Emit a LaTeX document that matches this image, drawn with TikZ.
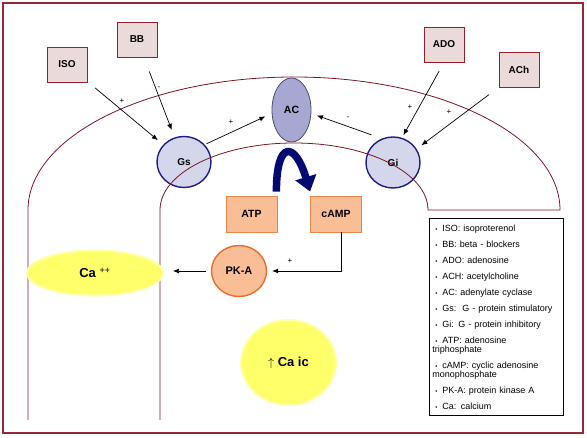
\documentclass[tikz,border=0pt]{standalone}
\usepackage{fontspec}
\setmainfont{Liberation Sans}
\usepackage{xcolor}
\usetikzlibrary{arrows,arrows.meta,shapes.geometric}

\definecolor{framered}{RGB}{150,40,55}
\definecolor{membred}{RGB}{125,20,35}
\definecolor{drugfill}{RGB}{234,218,218}
\definecolor{drugline}{RGB}{150,30,45}
\definecolor{gfill}{RGB}{212,214,236}
\definecolor{gline}{RGB}{30,30,130}
\definecolor{acfill}{RGB}{166,168,210}
\definecolor{acline}{RGB}{75,75,105}
\definecolor{nuclfill}{RGB}{250,190,150}
\definecolor{nuclline}{RGB}{235,135,70}
\definecolor{pkaline}{RGB}{230,110,45}
\definecolor{cayellow}{RGB}{255,255,105}
\definecolor{caedge}{RGB}{255,255,170}
\definecolor{bignavy}{RGB}{5,10,115}

\tikzset{
  drug/.style={rectangle, draw=drugline, fill=drugfill, line width=0.8pt,
    minimum width=40pt, minimum height=35pt, inner sep=0pt,
    font=\bfseries\fontsize{10}{12}\selectfont},
  gprot/.style={ellipse, draw=gline, fill=gfill, line width=1.4pt,
    minimum width=54pt, minimum height=51pt, inner sep=0pt,
    font=\bfseries\fontsize{10}{12}\selectfont},
  cyclase/.style={ellipse, draw=acline, fill=acfill, line width=0.8pt,
    minimum width=39pt, minimum height=64pt, inner sep=0pt,
    font=\bfseries\fontsize{10.5}{12}\selectfont},
  nucl/.style={rectangle, draw=nuclline, fill=nuclfill, line width=0.8pt,
    minimum width=51pt, minimum height=36pt, inner sep=0pt,
    font=\bfseries\fontsize{10.5}{12}\selectfont},
  kinase/.style={ellipse, draw=pkaline, fill=nuclfill, line width=1.4pt,
    minimum width=55pt, minimum height=51pt, inner sep=0pt,
    font=\bfseries\fontsize{11}{12}\selectfont},
  calcium/.style={ellipse, draw=caedge, fill=cayellow, line width=2pt,
    inner sep=0pt, font=\fontsize{13}{14}\selectfont},
  membrane/.style={draw=membred, line width=0.8pt},
  arr/.style={->, >={Latex[length=6pt,width=5pt]}, line width=0.7pt},
  bigarrow/.style={-{Triangle[width=21pt,length=15pt]}, draw=bignavy, line width=7.5pt},
  sign/.style={inner sep=0pt, font=\fontsize{8}{8}\selectfont},
  legend/.style={rectangle, draw=black, line width=0.7pt, inner sep=3pt,
    align=left, font=\fontsize{9}{9}\selectfont},
}

\newcommand{\keyitem}{\hspace*{3pt}{\fontsize{6}{6}\selectfont\textbullet}\hspace{5pt}}

\begin{document}
\begin{tikzpicture}[x=1pt, y=-1pt]
\useasboundingbox (0,0) rectangle (587,438);
\draw [framered, line width=2pt] (3,3) rectangle (583,433);

% receptors and ligands
\node [drug] (iso) at (67,64.5) {ISO};
\node [drug] (bb) at (137,39.5) {BB};
\node [drug] (ado) at (444,44.5) {ADO};
\node [drug] (ach) at (519,69.5) {ACh};
\node [gprot] (gs) at (184,162) {Gs};
\node [gprot] (gi) at (393,162.5) {Gi};

% cell membrane
\draw [membrane] (28,420) -- (28,210)
  arc [start angle=180, end angle=360, x radius=266, y radius=133] -- (428,210)
  arc [start angle=0, end angle=-180, x radius=134, y radius=67] -- (160,420);

\node [cyclase] (ac) at (291.5,110) {AC};
\node [nucl] (atp) at (251.5,214) {ATP};
\node [nucl] (camp) at (336,214) {cAMP};
\node [kinase] (pka) at (239,271) {PK-A};
\node [calcium, minimum width=136pt, minimum height=45pt] (caext) at (95,273) {{\bfseries Ca} \textsuperscript{++}};
\node [calcium, minimum width=95pt, minimum height=85pt] (caic) at (288.5,362.5) {$\uparrow$ {\bfseries Ca ic}};

% connectors
\draw [arr, shorten <=10pt, shorten >=7pt] (iso) -- (gs);
\draw [arr, shorten <=15pt, shorten >=8pt] (bb) -- (gs);
\draw [arr, shorten <=2pt, shorten >=7pt] (gs.40) -- (ac.190);
\draw [arr, shorten <=11pt, shorten >=6pt] (gi.115) -- (ac.350);
\draw [arr, shorten <=10pt, shorten >=3pt] (ado.south) -- (gi.70);
\draw [arr, shorten <=12pt, shorten >=6pt] (ach.south west) -- (gi.30);
\draw [arr, shorten >=5pt] ([xshift=5pt]camp.south) |- (pka.east);
\draw [arr, shorten <=5pt, shorten >=9pt] (pka.west) -- (caext.east |- pka.west);
\draw [bigarrow] ([xshift=-1pt,yshift=4pt]atp.north east) .. controls +(0,-52) and +(-15,-50) .. ([yshift=4pt]camp.north west);

\node [sign] (isosign) at (122,101) {+};
\node [sign] (bbsign) at (159,88) {-};
\node [sign] (gssign) at (231,122) {+};
\node [sign] (gisign) at (348,118) {-};
\node [sign] (adosign) at (410,107) {+};
\node [sign] (achsign) at (449,112) {+};
\node [sign] (campsign) at (290,261) {+};

% abbreviations
\node [legend, anchor=north west, text width=128pt, minimum height=197pt] (key) at (429,218) {%
\keyitem ISO: isoproterenol\\[7pt]
\keyitem BB: beta - blockers\\[7pt]
\keyitem ADO: adenosine\\[7pt]
\keyitem ACH: acetylcholine\\[7pt]
\keyitem AC: adenylate cyclase\\[7pt]
\keyitem Gs:\ \ G - protein stimulatory\\[7pt]
\keyitem Gi: G - protein inhibitory\\[7pt]
\keyitem ATP: adenosine\\ triphosphate\\[7pt]
\keyitem cAMP: cyclic adenosine\\ monophosphate\\[7pt]
\keyitem PK-A: protein kinase A\\[7pt]
\keyitem Ca: calcium};
\end{tikzpicture}
\end{document}
